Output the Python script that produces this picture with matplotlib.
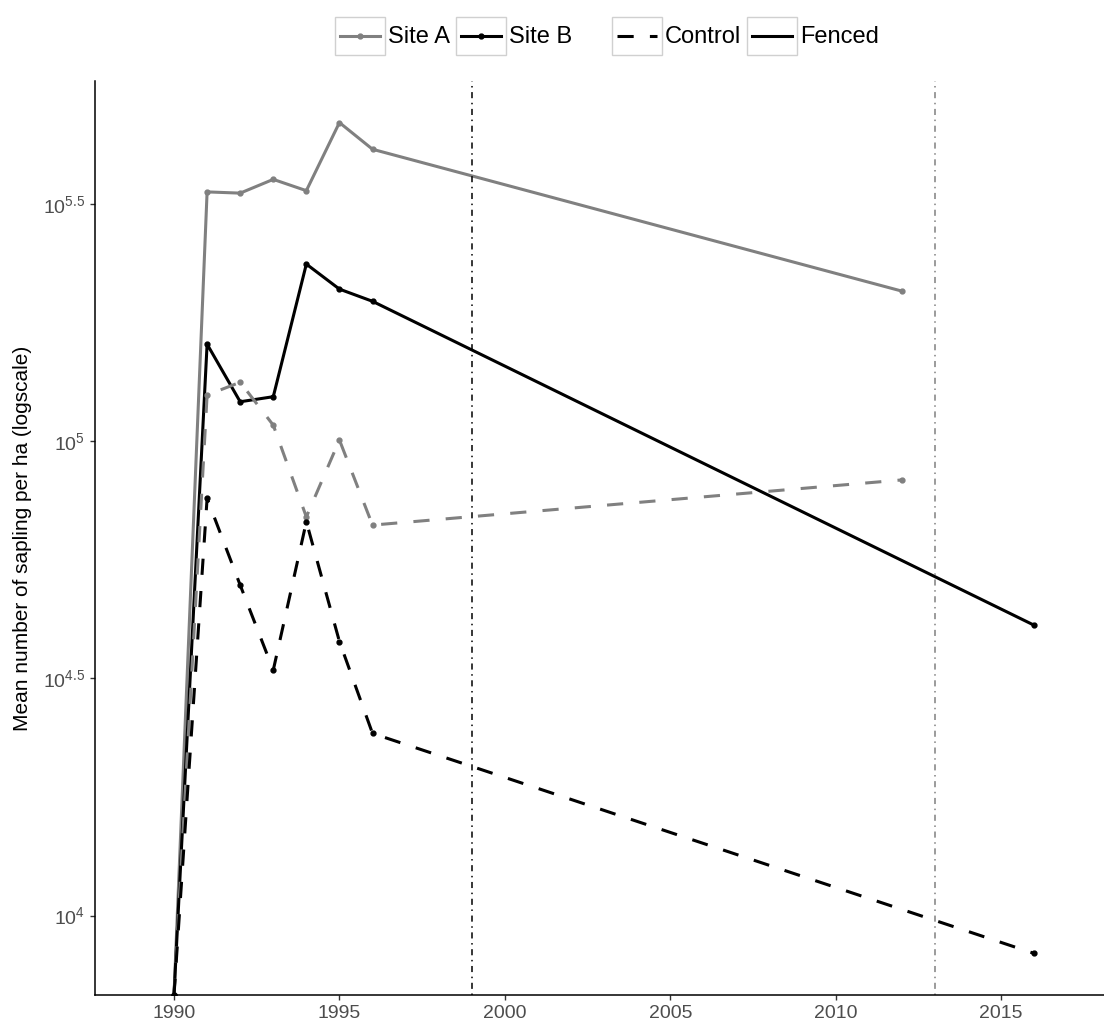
import numpy as np
import matplotlib
matplotlib.use("Agg")
import matplotlib.pyplot as plt
from matplotlib.legend_handler import HandlerLine2D
from matplotlib.patches import Rectangle
from matplotlib.lines import Line2D

plt.rcParams['font.family'] = ['Liberation Sans', 'DejaVu Sans']
plt.rcParams['mathtext.fontset'] = 'custom'
plt.rcParams['mathtext.rm'] = 'Liberation Sans'
plt.rcParams['mathtext.default'] = 'regular'

# survey years
years_a = [1990, 1991, 1992, 1993, 1994, 1995, 1996, 2012]
years_b = [1990, 1991, 1992, 1993, 1994, 1995, 1996, 2016]

# mean number of saplings per ha (0 in 1990)
site_a_fenced = [0, 335000, 333000, 356000, 337000, 469000, 412000, 207000]
site_b_fenced = [0, 160000, 121000, 124000, 236000, 209000, 197000, 40900]
site_a_control = [0, 125000, 133000, 108000, 69200, 100500, 66500, 82800]
site_b_control = [0, 75700, 49700, 32900, 67600, 37800, 24200, 8320]

event_years = [1999, 2013]
event_colors = ['black', '#808080']

ytick_exp = [4, 4.5, 5, 5.5]
xticks = [1990, 1995, 2000, 2005, 2010, 2015]

grey = '#808080'
lw = 2.2
ms = 3.5
dash = (0, (5.3, 5.3))

series = [
    (years_a, site_a_fenced, grey, '-'),
    (years_b, site_b_fenced, 'black', '-'),
    (years_a, site_a_control, grey, dash),
    (years_b, site_b_control, 'black', dash),
]

# y range like ggplot: finite data range + 5%
allv = np.concatenate([np.array(s[1], float) for s in series])
logv = np.log10(allv[allv > 0])
span = logv.max() - logv.min()
ylo = 10 ** (logv.min() - 0.05 * span)
yhi = 10 ** (logv.max() + 0.05 * span)

fig = plt.figure(figsize=(11.04, 10.36), dpi=100)
ax = fig.add_axes([0.086, 0.0396, 0.914, 0.8822])

for yr, vals, col, ls in series:
    v = np.array(vals, float)
    v = np.where(v > 0, v, ylo)  # zero drawn at the panel edge
    ax.plot(yr, v, color=col, lw=lw, linestyle=ls, marker='o', ms=ms)

for yr, col in zip(event_years, event_colors):
    ax.axvline(yr, color=col, lw=1.1, linestyle=(0, (1, 3, 4, 3)))

ax.set_yscale('log')
ax.set_ylim(ylo, yhi)
ax.set_xlim(1987.61, 2018.11)
ax.set_yticks([10 ** e for e in ytick_exp])
ax.set_yticklabels([r'$10^{%g}$' % e for e in ytick_exp])
ax.yaxis.set_minor_locator(matplotlib.ticker.NullLocator())
ax.set_xticks(xticks)

for s in ['top', 'right']:
    ax.spines[s].set_visible(False)
for s in ['left', 'bottom']:
    ax.spines[s].set_linewidth(1.1)
ax.tick_params(axis='both', labelsize=14, colors='#333333', labelcolor='#4d4d4d',
               length=3.6, width=1.0)
ax.set_ylabel('Mean number of sapling per ha (logscale)', fontsize=15, labelpad=8)


class BoxedLine(HandlerLine2D):
    def get_xdata(self, legend, xdescent, ydescent, width, height, fontsize):
        x0 = -xdescent
        return (np.array([x0 + 0.1 * width, x0 + 0.9 * width]),
                np.array([x0 + 0.5 * width]))

    def create_artists(self, legend, orig_handle, xdescent, ydescent,
                       width, height, fontsize, trans):
        arts = super().create_artists(legend, orig_handle, xdescent, ydescent,
                                      width, height, fontsize, trans)
        # put the key line in the middle of the key box
        ymid = height / 2 - ydescent
        for a in arts:
            a.set_ydata(np.full(len(a.get_xdata()), ymid))
        box = Rectangle((-xdescent, -ydescent), width, height, facecolor='white',
                        edgecolor='#d0d0d0', lw=1.0, transform=trans)
        return [box] + list(arts)


h_a = Line2D([], [], color=grey, lw=lw, marker='o', ms=ms)
h_b = Line2D([], [], color='black', lw=lw, marker='o', ms=ms)
h_c = Line2D([], [], color='black', lw=lw, linestyle=dash)
h_f = Line2D([], [], color='black', lw=lw)

leg_kw = dict(loc='center left', ncol=2, frameon=False, handlelength=2.1,
              handleheight=2.1, handletextpad=0.15, columnspacing=0.25,
              borderpad=0, borderaxespad=0, fontsize=17,
              handler_map={Line2D: BoxedLine(numpoints=1)})
leg1 = fig.legend([h_a, h_b], ['Site A', 'Site B'],
                  bbox_to_anchor=(335 / 1104, 1 - 36 / 1036), **leg_kw)
leg2 = fig.legend([h_c, h_f], ['Control', 'Fenced'],
                  bbox_to_anchor=(612 / 1104, 1 - 36 / 1036), **leg_kw)

fig.savefig('out.png', dpi=100)
